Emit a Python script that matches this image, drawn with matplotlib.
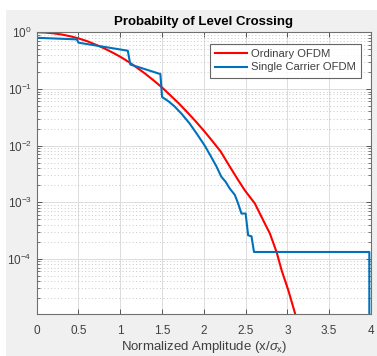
import numpy as np
import matplotlib
matplotlib.use("Agg")
import matplotlib.pyplot as plt
from matplotlib.patches import Rectangle
from matplotlib.ticker import LogLocator, NullFormatter, FixedLocator

plt.rcParams['font.family'] = ['Liberation Sans', 'DejaVu Sans']
plt.rcParams['mathtext.fontset'] = 'custom'
plt.rcParams['mathtext.rm'] = 'Liberation Sans'
plt.rcParams['mathtext.it'] = 'Liberation Sans:italic'

# ordinary OFDM level crossing probability
red_x = [0, 0.1, 0.2, 0.3, 0.4, 0.5, 0.6, 0.7, 0.8, 0.9, 1.0, 1.1, 1.2,
         1.3, 1.4, 1.5, 1.6, 1.7, 1.8, 1.9, 2.0, 2.1, 2.2, 2.3, 2.4, 2.49,
         2.61, 2.71, 2.79, 2.87, 2.93, 3.01, 3.09, 3.14]
red_y = [1.0, 0.99, 0.96, 0.914, 0.852, 0.78, 0.70, 0.61, 0.527, 0.445,
         0.37, 0.30, 0.237, 0.185, 0.141, 0.106, 0.077, 0.0556, 0.039,
         0.027, 0.0183, 0.0121, 0.0079, 0.0045, 0.0026, 0.00162, 0.00095,
         0.00048, 0.00028, 0.000132, 6.3e-5, 2.8e-5, 1.1e-5, 5.5e-6]

# single carrier OFDM
blue_x = [0, 0.48, 0.50, 1.09, 1.12, 1.48, 1.50, 1.58, 1.65, 1.74, 1.83,
          1.92, 2.01, 2.08, 2.15, 2.21, 2.26, 2.31, 2.37, 2.41, 2.45, 2.50,
          2.53, 2.57, 2.60, 3.98, 3.98]
blue_y = [0.80, 0.75, 0.656, 0.473, 0.27, 0.183, 0.072, 0.060, 0.049,
          0.0355, 0.0245, 0.0158, 0.010, 0.0066, 0.0043, 0.0028, 0.0023,
          0.00174, 0.00135, 0.00095, 0.00063, 0.00063, 0.00026, 0.00025,
          0.000132, 0.000132, 1e-6]

xticks = [0, 0.5, 1, 1.5, 2, 2.5, 3, 3.5, 4]
xtick_labels = ['0', '0.5', '1', '1.5', '2', '2.5', '3', '3.5', '4']
ydecades = [1e-4, 1e-3, 1e-2, 1e-1, 1e0]
ytick_labels = [r'$10^{-4}$', r'$10^{-3}$', r'$10^{-2}$', r'$10^{-1}$', r'$10^{0}$']

W, H = 377, 356
fig = plt.figure(figsize=(W / 100, H / 100), dpi=100, facecolor='#f0f0f0')
# white strips from screenshot edge
fig.patches.append(Rectangle((0, 1 - 10 / H), 1, 10 / H, transform=fig.transFigure,
                             facecolor='white', edgecolor='none', zorder=-1))
fig.patches.append(Rectangle((0, 0), 6 / W, 1, transform=fig.transFigure,
                             facecolor='white', edgecolor='none', zorder=-1))

ax = fig.add_axes([36.7 / W, 1 - 314.3 / H, (371 - 36.7) / W, (314.3 - 32.3) / H])
ax.set_facecolor('white')

ax.plot(red_x, red_y, color='#ff0000', lw=1.5, label='Ordinary OFDM')
ax.plot(blue_x, blue_y, color='#0072bd', lw=1.5, label='Single Carrier OFDM')

ax.set_yscale('log')
ax.set_xlim(0, 4)
ax.set_ylim(10 ** -4.98, 1)

ax.xaxis.set_major_locator(FixedLocator(xticks))
ax.set_xticklabels(xtick_labels)
ax.yaxis.set_major_locator(FixedLocator(ydecades))
ax.set_yticklabels(ytick_labels)
ax.yaxis.set_minor_locator(LogLocator(base=10, subs=np.arange(2, 10)))
ax.yaxis.set_minor_formatter(NullFormatter())

ax.grid(True, which='major', color='#dcdcdc', lw=0.7, ls='-')
ax.grid(True, which='minor', axis='y', color='#c8c8c8', lw=0.7, ls=(0, (1, 2.5)))
ax.set_axisbelow(True)

ax.tick_params(which='both', direction='in', top=True, right=True,
               colors='#404040', labelcolor='#404040', labelsize=8.5)
ax.tick_params(which='major', length=3.5, width=0.6)
ax.tick_params(which='minor', length=2, width=0.5)
ax.tick_params(axis='x', pad=8)
for s in ax.spines.values():
    s.set_color('#707070')
    s.set_linewidth(0.8)

ax.set_title('Probabilty of Level Crossing', fontsize=9.5, fontweight='bold',
             color='black', pad=5)
ax.set_xlabel(r'Normalized Amplitude (x/$\sigma_\mathrm{x}$)', fontsize=9.5,
              color='#404040', labelpad=1)

leg = ax.legend(loc='upper right', bbox_to_anchor=(361 / W, 1 - 44 / H),
                bbox_transform=fig.transFigure, fontsize=8.1, frameon=True,
                fancybox=False, edgecolor='#404040', handlelength=2.8,
                borderpad=0.45, labelspacing=0.3, handletextpad=0.4,
                borderaxespad=0)
leg.get_frame().set_linewidth(0.8)
for t in leg.get_texts():
    t.set_color('#404040')

fig.savefig('out.png', dpi=100, facecolor=fig.get_facecolor())
